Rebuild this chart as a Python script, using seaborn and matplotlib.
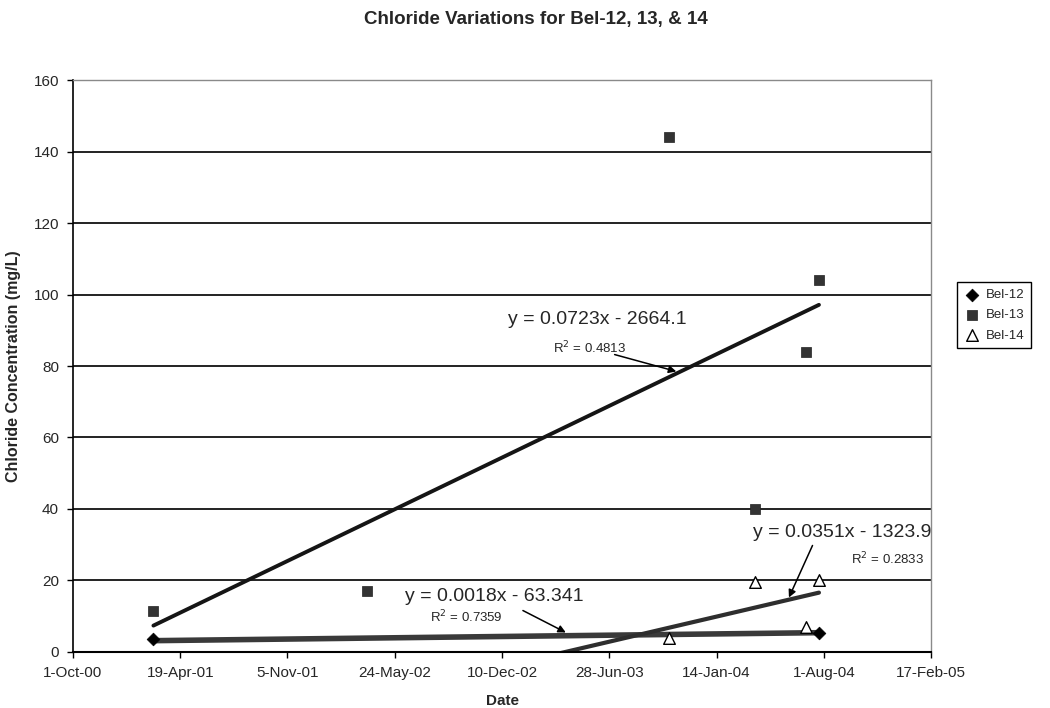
import numpy as np
import pandas as pd
import matplotlib
matplotlib.use("Agg")
import matplotlib.pyplot as plt
import seaborn as sns

# ---- sampled chloride concentrations (mg/L) ----
bel12_dates = ["2001-02-28", "2004-07-23"]
bel12_values = [3.7, 5.2]

bel13_dates = ["2001-02-28", "2002-04-03", "2003-10-17", "2004-03-26", "2004-06-28", "2004-07-23"]
bel13_values = [11.5, 17.0, 144.0, 40.0, 84.0, 104.0]

bel14_dates = ["2003-10-17", "2004-03-26", "2004-06-28", "2004-07-23"]
bel14_values = [3.8, 19.5, 6.9, 20.0]

# linear trend lines (x = spreadsheet day serial)
trend_names = ["Bel-12", "Bel-13", "Bel-14"]
trend_slopes = [0.0018, 0.0723, 0.0351]
trend_intercepts = [-63.341, -2664.1, -1323.9]
trend_r2 = ["0.7359", "0.4813", "0.2833"]
trend_eq_text = ["y = 0.0018x - 63.341", "y = 0.0723x - 2664.1", "y = 0.0351x - 1323.9"]

x_tick_labels = ["1-Oct-00", "19-Apr-01", "5-Nov-01", "24-May-02", "10-Dec-02",
                 "28-Jun-03", "14-Jan-04", "1-Aug-04", "17-Feb-05"]
y_ticks = [0, 20, 40, 60, 80, 100, 120, 140, 160]

EPOCH = pd.Timestamp("1899-12-30")


def serial(dates, fmt=None):
    d = pd.to_datetime(pd.Series(dates), format=fmt)
    return ((d - EPOCH).dt.days).astype(float).to_numpy()


sns.set_theme(style="white")
plt.rcParams["font.family"] = ["Liberation Sans", "DejaVu Sans"]

fig = plt.figure(figsize=(10.5, 7.08), dpi=100)
ax = fig.add_axes([0.0695, 0.0791, 0.8172, 0.8079])

x_ticks = serial(x_tick_labels, fmt="%d-%b-%y")

# horizontal gridlines
for yv in y_ticks[1:-1]:
    ax.axhline(yv, color="#111111", lw=1.3, zorder=1)

# trend lines over the survey period
x_all = np.concatenate([serial(bel12_dates), serial(bel13_dates), serial(bel14_dates)])
xs = np.linspace(x_all.min(), x_all.max(), 200)
trend_styles = [dict(color="#3a3a3a", lw=4.0), dict(color="#151515", lw=2.8),
                dict(color="#2e2e2e", lw=3.0)]
for m, b, st in zip(trend_slopes, trend_intercepts, trend_styles):
    df = pd.DataFrame({"x": xs, "y": m * xs + b})
    sns.lineplot(data=df, x="x", y="y", ax=ax, zorder=2, legend=False, **st)

# sample markers
d12 = pd.DataFrame({"x": serial(bel12_dates), "y": bel12_values})
d13 = pd.DataFrame({"x": serial(bel13_dates), "y": bel13_values})
d14 = pd.DataFrame({"x": serial(bel14_dates), "y": bel14_values})
sns.scatterplot(data=d12, x="x", y="y", ax=ax, marker="D", s=42, color="black",
                edgecolor="black", linewidth=0.5, zorder=4, label="Bel-12")
sns.scatterplot(data=d13, x="x", y="y", ax=ax, marker="s", s=55, color="#333333",
                edgecolor="#222222", linewidth=0.5, zorder=4, label="Bel-13")
sns.scatterplot(data=d14, x="x", y="y", ax=ax, marker="^", s=70, color="white",
                edgecolor="black", linewidth=1.0, zorder=5, label="Bel-14")

ax.set_xlim(x_ticks[0], x_ticks[-1])
ax.set_ylim(0, 160)
ax.set_xticks(x_ticks)
ax.set_xticklabels(x_tick_labels, fontsize=11)
ax.set_yticks(y_ticks)
ax.set_yticklabels([str(v) for v in y_ticks], fontsize=11)
ax.tick_params(axis="both", direction="out", length=4, width=1, color="black",
               bottom=True, left=True, pad=6)

ax.spines["left"].set_color("black")
ax.spines["bottom"].set_color("black")
ax.spines["left"].set_linewidth(1.2)
ax.spines["bottom"].set_linewidth(1.5)
for s in ["top", "right"]:
    ax.spines[s].set_color("#8a8a8a")
    ax.spines[s].set_linewidth(1.0)

ax.set_xlabel("Date", fontsize=11, fontweight="bold", labelpad=10)
ax.set_ylabel("Chloride Concentration (mg/L)", fontsize=11.5, fontweight="bold", labelpad=9)
fig.text(0.51, 0.973, "Chloride Variations for Bel-12, 13, & 14",
         ha="center", va="center", fontsize=13.5, fontweight="bold")

# equation labels with arrows to their trend lines
eq_pos = [(37585, 15.4), (37777, 93.0), (38235, 33.3)]
r2_pos = [(37533, 9.8), (37764, 85.0), (38319, 26.0)]
arrow_tail = [(37639, 11.6), (37810, 83.2), (38179, 29.8)]
arrow_tip_x = [37719, 37925, 38135]
for i in range(3):
    ax.text(*eq_pos[i], trend_eq_text[i], ha="center", va="center", fontsize=14, zorder=6)
    ax.text(*r2_pos[i], "R$^2$ = " + trend_r2[i], ha="center", va="center",
            fontsize=9.5, zorder=6)
    tx = arrow_tip_x[i]
    ty = trend_slopes[i] * tx + trend_intercepts[i] + (0.9 if i == 0 else 0.6)
    ax.annotate("", xy=(tx, ty), xytext=arrow_tail[i],
                arrowprops=dict(arrowstyle="-|>", color="black", lw=1.1,
                                mutation_scale=11, shrinkA=0, shrinkB=0), zorder=6)

handles, labels = ax.get_legend_handles_labels()
ax.legend_.remove()
leg = fig.legend(handles, labels, loc="upper left", bbox_to_anchor=(0.9115, 0.601),
                 fontsize=9.5, frameon=True, fancybox=False, framealpha=1,
                 edgecolor="black", borderpad=0.5, labelspacing=0.6, borderaxespad=0,
                 handletextpad=0.5, handlelength=1.2)
leg.get_frame().set_linewidth(1.0)

fig.savefig("out.png", dpi=100, facecolor="white")
